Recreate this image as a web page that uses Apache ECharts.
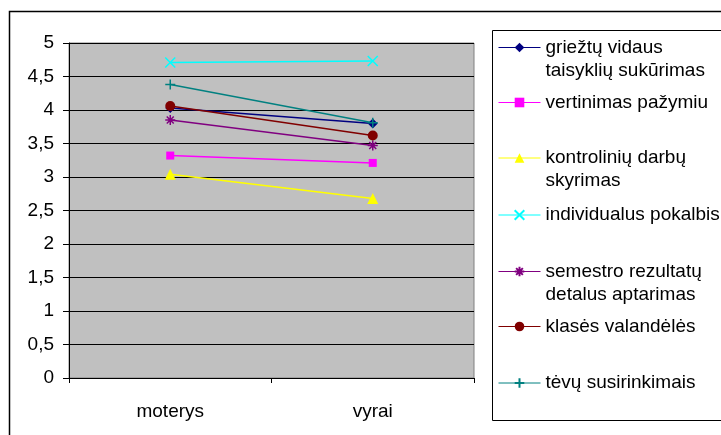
<!DOCTYPE html>
<html><head><meta charset="utf-8">
<script src="https://cdn.jsdelivr.net/npm/echarts@6/dist/echarts.min.js"></script>
<style>html,body{margin:0;padding:0;background:#fff}#c{width:721px;height:435px}</style>
</head><body><div id="c"></div>
<script>
const categories = ['moterys', 'vyrai'];
const yTicks = [0, 0.5, 1, 1.5, 2, 2.5, 3, 3.5, 4, 4.5, 5];
const names = ['griežtų vidaus\ntaisyklių sukūrimas', 'vertinimas pažymiu', 'kontrolinių darbų\nskyrimas', 'individualus pokalbis', 'semestro rezultatų\ndetalus aptarimas', 'klasės valandėlės', 'tėvų susirinkimais'];
const griezt = [4.03, 3.8];
const vertinimas = [3.32, 3.21];
const kontroliniu = [3.04, 2.68];
const individualus = [4.71, 4.73];
const semestro = [3.85, 3.47];
const klases = [4.06, 3.62];
const tevu = [4.38, 3.81];
const values = [griezt, vertinimas, kontroliniu, individualus, semestro, klases, tevu];
const colors = ['#000080', '#FF00FF', '#FFFF00', '#00FFFF', '#800080', '#800000', '#008080'];
const symbols = ['diamond', 'rect', 'triangle', 'path://M0,0L10,10M10,0L0,10', 'path://M5,0L5,10M0,5L10,5M1.5,1.5L8.5,8.5M8.5,1.5L1.5,8.5', 'circle', 'path://M5,0L5,10M0,5L10,5'];
const sizes = [10, 8, 11, 10, 10, 10, 10];
const strokeOnly = [false, false, false, true, true, false, true];
const legendCenters = [47.5, 102.5, 158, 215, 271.5, 326.5, 383];

const FONT = "'Liberation Sans', Arial, sans-serif";
const FS = 19, LH = 23;

const chart = echarts.init(document.getElementById('c'), null, {renderer: 'canvas'});

const series = names.map((n, i) => ({
  name: n,
  type: 'line',
  data: values[i],
  symbol: symbols[i],
  symbolSize: sizes[i],
  showSymbol: true,
  lineStyle: {color: colors[i], width: 1.5},
  itemStyle: strokeOnly[i]
    ? {color: colors[i], borderColor: colors[i], borderWidth: 1.5}
    : {color: colors[i], borderWidth: 0},
  emphasis: {disabled: true},
  z: 3
}));

const legends = names.map((n, i) => {
  const twoLine = n.indexOf('\n') >= 0;
  return {
    data: [n],
    left: 498,
    top: legendCenters[i] - (twoLine ? 1.5 * LH : LH / 2),
    orient: 'vertical',
    padding: 0,
    itemWidth: 42,
    itemHeight: 12,
    selectedMode: false,
    lineStyle: {width: 1},
    formatter: name => (name.indexOf('\n') >= 0 ? ' \n' + name : name),
    textStyle: {fontFamily: FONT, fontSize: FS, lineHeight: LH, color: '#000'}
  };
});

chart.setOption({
  animation: false,
  backgroundColor: '#fff',
  grid: {left: 69, right: 247, top: 43, bottom: 57, show: true, backgroundColor: '#C0C0C0', borderColor: '#808080', borderWidth: 1},
  xAxis: {
    type: 'category', data: categories, boundaryGap: true,
    axisLine: {lineStyle: {color: '#000', width: 1}},
    axisTick: {show: true, length: 5, lineStyle: {color: '#000'}},
    axisLabel: {fontFamily: FONT, fontSize: FS, color: '#000', margin: 24},
    splitLine: {show: false}
  },
  yAxis: {
    type: 'value', min: yTicks[0], max: yTicks[yTicks.length - 1], interval: 0.5,
    axisLine: {show: true, lineStyle: {color: '#000', width: 1}},
    axisTick: {show: true, length: 6, lineStyle: {color: '#000'}},
    axisLabel: {fontFamily: FONT, fontSize: FS, color: '#000', margin: 15,
      formatter: v => String(v).replace('.', ',')},
    splitLine: {show: true, lineStyle: {color: '#000', width: 1}}
  },
  legend: legends,
  graphic: [
    {type: 'rect', shape: {x: 9.5, y: 11.5, width: 730, height: 440}, style: {fill: 'none', stroke: '#000', lineWidth: 1.5}, z: 0, silent: true},
    {type: 'rect', shape: {x: 492.5, y: 30.5, width: 240, height: 390}, style: {fill: 'none', stroke: '#000', lineWidth: 1}, z: 0, silent: true}
  ],
  series: series
});
</script></body></html>
